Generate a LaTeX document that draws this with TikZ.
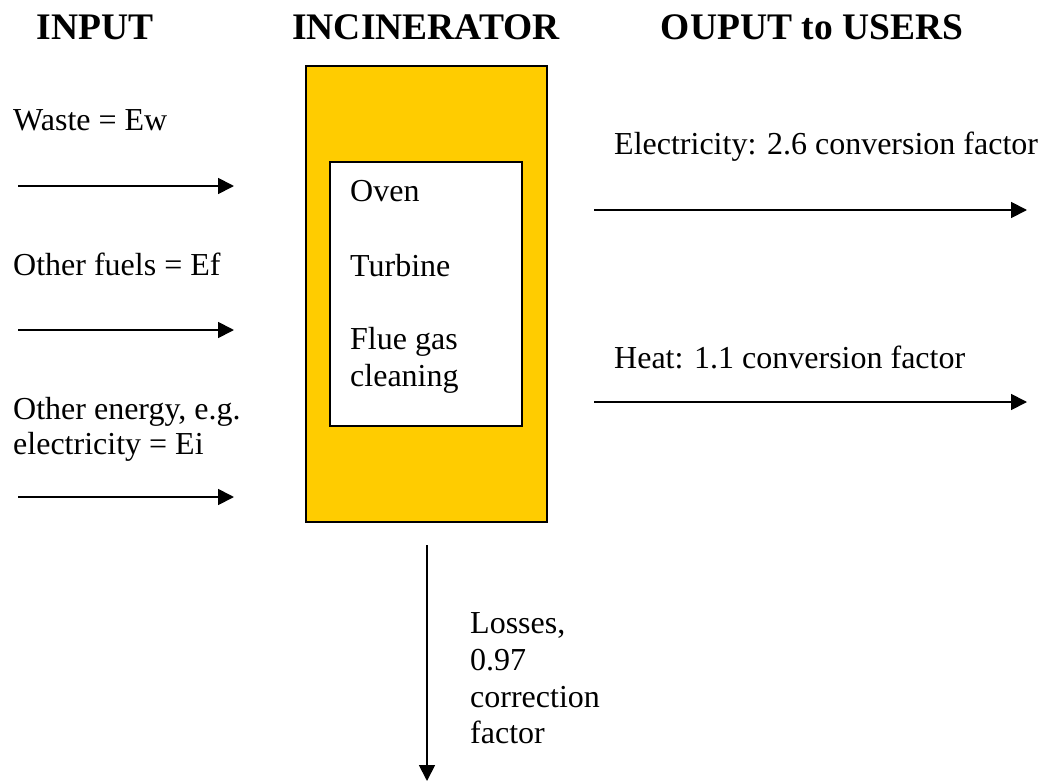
\documentclass[tikz,border=0pt]{standalone}
\usepackage{fontspec}
\setmainfont{Liberation Serif}
\usetikzlibrary{arrows.meta}
\definecolor{incyellow}{HTML}{FFCC00}
\begin{document}
\begin{tikzpicture}[x=1pt,y=-1pt,
  lbl/.style={anchor=base west,inner sep=0pt,font=\fontsize{32}{37}\selectfont},
  hdr/.style={anchor=base,inner sep=0pt,font=\fontsize{37.5}{42}\selectfont\bfseries},
  flow/.style={line width=1.8pt,-{Triangle[length=16pt,width=16pt]}},
  box/.style={draw=black,line width=1.5pt}]
\useasboundingbox (0,0) rectangle (1043,781);
% headers
\node[hdr] (hin) at (95,40) {INPUT};
\node[hdr] (hinc) at (426,40) {INCINERATOR};
\node[hdr] (hout) at (812,40) {OUPUT to USERS};
% incinerator
\node[box,fill=incyellow,minimum width=241pt,minimum height=456pt,inner sep=0pt] (outer) at (426.5,294) {};
\node[box,fill=white,minimum width=192pt,minimum height=264pt,inner sep=0pt] (inner) at (426,294) {};
\node[lbl] (oven) at (350,201) {Oven};
\node[lbl] (turb) at (350,276) {Turbine};
\node[lbl] (flue1) at (350,349) {Flue gas};
\node[lbl] (flue2) at (350,386) {cleaning};
% inputs
\node[lbl] (waste) at (13,131) {Waste = Ew};
\node[lbl] (fuels) at (13,275) {Other fuels = Ef};
\node[lbl] (energy1) at (13,419) {Other energy, e.g.};
\node[lbl] (energy2) at (13,454) {electricity = Ei};
\coordinate (a1s) at (18,186); \coordinate (a1e) at (234,186);
\coordinate (a2s) at (18,330); \coordinate (a2e) at (234,330);
\coordinate (a3s) at (18,497); \coordinate (a3e) at (234,497);
\draw[flow] (a1s) -- (a1e);
\draw[flow] (a2s) -- (a2e);
\draw[flow] (a3s) -- (a3e);
% outputs
\node[lbl] (elec) at (614,154) {Electricity: 2.6 conversion factor};
\node[lbl] (heat) at (614,368) {Heat: 1.1 conversion factor};
\coordinate (o1s) at (594,210); \coordinate (o1e) at (1027,210);
\coordinate (o2s) at (594,402); \coordinate (o2e) at (1027,402);
\draw[flow] (o1s) -- (o1e);
\draw[flow] (o2s) -- (o2e);
% losses
\coordinate (ls) at (427,545); \coordinate (le) at (427,781);
\draw[flow] (ls) -- (le);
\node[lbl] (l1) at (470,633) {Losses,};
\node[lbl] (l2) at (470,670) {0.97};
\node[lbl] (l3) at (470,707) {correction};
\node[lbl] (l4) at (470,743) {factor};
\end{tikzpicture}
\end{document}
